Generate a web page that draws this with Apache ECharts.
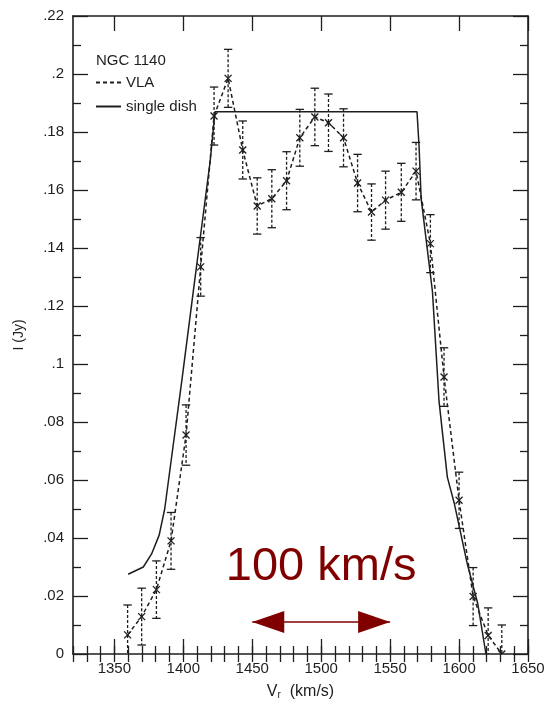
<!DOCTYPE html>
<html><head><meta charset="utf-8">
<script src="https://cdn.jsdelivr.net/npm/echarts@6/dist/echarts.min.js"></script>
<style>html,body{margin:0;padding:0;background:#fff}#c{width:546px;height:703px}</style>
</head><body><div id="c"></div>
<script>
// VLA channels (velocity km/s), flux (Jy) and 1-sigma error (Jy)
const vlaV = [1359.6, 1369.8, 1380.5, 1391.1, 1402.0, 1412.6, 1422.3, 1432.5, 1443.1, 1453.6, 1464.2, 1474.9, 1484.5, 1495.4, 1505.3, 1516.2, 1526.4, 1536.5, 1546.7, 1558.1, 1568.8, 1579.2, 1589.1, 1600.0, 1610.2, 1621.1, 1631.0];
const vlaI = [0.0066, 0.0129, 0.0222, 0.0390, 0.0755, 0.1335, 0.1855, 0.1985, 0.1738, 0.1545, 0.1570, 0.1632, 0.1780, 0.1852, 0.1832, 0.1780, 0.1624, 0.1524, 0.1565, 0.1592, 0.1665, 0.1415, 0.0955, 0.0530, 0.0198, 0.0064, 0.0000];
const vlaErr = [0.0103, 0.0098, 0.0099, 0.0098, 0.0104, 0.0101, 0.0100, 0.0100, 0.0100, 0.0097, 0.0100, 0.0100, 0.0098, 0.0099, 0.0099, 0.0100, 0.0099, 0.0097, 0.0100, 0.0100, 0.0099, 0.0100, 0.0101, 0.0097, 0.0100, 0.0095, 0.0100];
// single dish profile
const sdV = [1360.0, 1371.0, 1377.0, 1382.5, 1386.5, 1399.0, 1407.5, 1419.5, 1423.0, 1569.5, 1571.0, 1572.5, 1580.7, 1585.5, 1591.5, 1596.5, 1606.0, 1613.5, 1619.5];
const sdI = [0.0275, 0.0300, 0.0345, 0.0410, 0.0500, 0.0945, 0.1260, 0.1700, 0.1870, 0.1870, 0.1750, 0.1570, 0.1250, 0.0870, 0.0610, 0.0520, 0.0310, 0.0175, 0.0000];
// axis ticks and labels
const xMajorTicks = [1350, 1400, 1450, 1500, 1550, 1600, 1650];
const yTickValues = [0, 0.02, 0.04, 0.06, 0.08, 0.10, 0.12, 0.14, 0.16, 0.18, 0.20, 0.22];
const yTickLabels = ['0', '.02', '.04', '.06', '.08', '.1', '.12', '.14', '.16', '.18', '.2', '.22'];
// annotation
const scaleBarV = [1450, 1550];
const scaleBarI = 0.011;
const scaleText = '100 km/s';
const scaleTextPos = [1500, 0.030];

const INK = '#1e1e1e';
const FONT = 'Liberation Sans';
const chart = echarts.init(document.getElementById('c'), null, {renderer: 'canvas'});

const baseX = {
  type: 'value', min: 1320, max: 1650, splitLine: {show: false},
  axisLine: {show: false}, axisLabel: {show: false}
};
const majorTickX = {show: true, inside: true, length: 15, customValues: xMajorTicks, lineStyle: {color: INK, width: 1.3}};
const minorTickX = {show: true, inside: true, length: 8, lineStyle: {color: INK, width: 1.3}};
const yLabelFmt = v => {
  const i = yTickValues.findIndex(t => Math.abs(t - v) < 1e-9);
  return i >= 0 ? yTickLabels[i] : '';
};

const option = {
  animation: false,
  backgroundColor: '#fff',
  grid: {left: 73, right: 18, top: 16, bottom: 49, containLabel: false, outerBoundsMode: 'none'},
  title: {
    text: 'NGC 1140', left: 96, top: 53, padding: 0,
    textStyle: {fontFamily: FONT, fontSize: 15, fontWeight: 'normal', color: INK}
  },
  legend: {
    data: ['VLA', 'single dish'], orient: 'vertical', left: 95, top: 75, padding: 0,
    itemWidth: 25, itemHeight: 12, itemGap: 9,
    itemStyle: {opacity: 0},
    textStyle: {fontFamily: FONT, fontSize: 15, color: INK, lineHeight: 15}
  },
  xAxis: [
    Object.assign({}, baseX, {
      position: 'bottom',
      axisLine: {show: true, onZero: false, lineStyle: {color: INK, width: 1.6}},
      axisTick: majorTickX,
      axisLabel: {show: true, customValues: xMajorTicks, formatter: v => String(v), margin: 7, fontFamily: FONT, fontSize: 15, color: INK},
      name: '{v|V}{s|r}{v|  (km/s)}', nameLocation: 'middle', nameGap: 30,
      nameTextStyle: {rich: {
        v: {fontFamily: FONT, fontSize: 16, color: INK},
        s: {fontFamily: FONT, fontSize: 10, color: INK, verticalAlign: 'bottom', padding: [6, 0, 0, 0]}
      }}
    }),
    Object.assign({}, baseX, {position: 'bottom', interval: 10, axisTick: minorTickX}),
    Object.assign({}, baseX, {position: 'top', axisLine: {show: true, onZero: false, lineStyle: {color: INK, width: 1.6}}, axisTick: majorTickX}),
    Object.assign({}, baseX, {position: 'top', interval: 10, axisTick: minorTickX})
  ],
  yAxis: [
    {
      type: 'value', min: 0, max: 0.22, interval: 0.02, position: 'left',
      axisLine: {show: true, onZero: false, lineStyle: {color: INK, width: 1.6}},
      axisTick: {show: true, inside: true, length: 15, lineStyle: {color: INK, width: 1.3}},
      minorTick: {show: true, splitNumber: 2, length: 8, lineStyle: {color: INK, width: 1.3}},
      axisLabel: {formatter: yLabelFmt, margin: 9, fontFamily: FONT, fontSize: 15, color: INK},
      splitLine: {show: false},
      name: 'I (Jy)', nameLocation: 'middle', nameGap: 47, nameRotate: 90,
      nameTextStyle: {fontFamily: FONT, fontSize: 14, color: INK}
    },
    {
      type: 'value', min: 0, max: 0.22, interval: 0.02, position: 'right',
      axisLine: {show: true, onZero: false, lineStyle: {color: INK, width: 1.6}},
      axisTick: {show: true, inside: true, length: 15, lineStyle: {color: INK, width: 1.3}},
      minorTick: {show: true, splitNumber: 2, length: 8, lineStyle: {color: INK, width: 1.3}},
      axisLabel: {show: false}, splitLine: {show: false}
    }
  ],
  series: [
    {
      name: 'single dish', type: 'line', xAxisIndex: 0, yAxisIndex: 0,
      data: sdV.map((v, i) => [v, sdI[i]]),
      symbol: 'none', lineStyle: {color: INK, width: 1.5, type: 'solid'}, itemStyle: {color: INK},
      markLine: {
        silent: true, animation: false,
        symbol: ['triangle', 'triangle'], symbolSize: [22, 32], symbolOffset: [[0, 16], [0, 16]],
        label: {show: false},
        lineStyle: {color: '#800000', width: 1.5, type: 'solid'},
        itemStyle: {color: '#800000'},
        data: [[{coord: [scaleBarV[0], scaleBarI]}, {coord: [scaleBarV[1], scaleBarI]}]]
      },
      markPoint: {
        silent: true, symbol: 'circle', symbolSize: 0,
        label: {show: true, position: 'inside', formatter: scaleText, fontFamily: FONT, fontSize: 47, color: '#800000'},
        data: [{coord: scaleTextPos}]
      }
    },
    {
      name: 'VLA', type: 'line', xAxisIndex: 0, yAxisIndex: 0,
      data: vlaV.map((v, i) => [v, vlaI[i]]),
      symbol: 'none', lineStyle: {color: INK, width: 1.5, type: [4, 3]}, itemStyle: {color: INK}
    },
    {
      name: 'VLA errors', type: 'custom', xAxisIndex: 0, yAxisIndex: 0, clip: true,
      data: vlaV.map((v, i) => [v, vlaI[i], vlaErr[i]]),
      renderItem: (params, api) => {
        const v = api.value(0), I = api.value(1), e = api.value(2);
        const c = api.coord([v, I]);
        const top = api.coord([v, I + e]);
        const loVal = I - e;
        const bot = api.coord([v, Math.max(0, loVal)]);
        const cw = 4.2, m = 3.5;
        const st = {stroke: INK, lineWidth: 1.3, fill: null};
        const kids = [
          {type: 'line', shape: {x1: c[0], y1: top[1], x2: c[0], y2: bot[1]}, style: Object.assign({}, st, {lineDash: [3, 2]})},
          {type: 'line', shape: {x1: c[0] - cw, y1: top[1], x2: c[0] + cw, y2: top[1]}, style: st},
          {type: 'line', shape: {x1: c[0] - m, y1: c[1] - m, x2: c[0] + m, y2: c[1] + m}, style: st},
          {type: 'line', shape: {x1: c[0] - m, y1: c[1] + m, x2: c[0] + m, y2: c[1] - m}, style: st}
        ];
        if (loVal > 0) kids.push({type: 'line', shape: {x1: c[0] - cw, y1: bot[1], x2: c[0] + cw, y2: bot[1]}, style: st});
        return {type: 'group', children: kids};
      }
    }
  ]
};
chart.setOption(option);
</script>
</body></html>
